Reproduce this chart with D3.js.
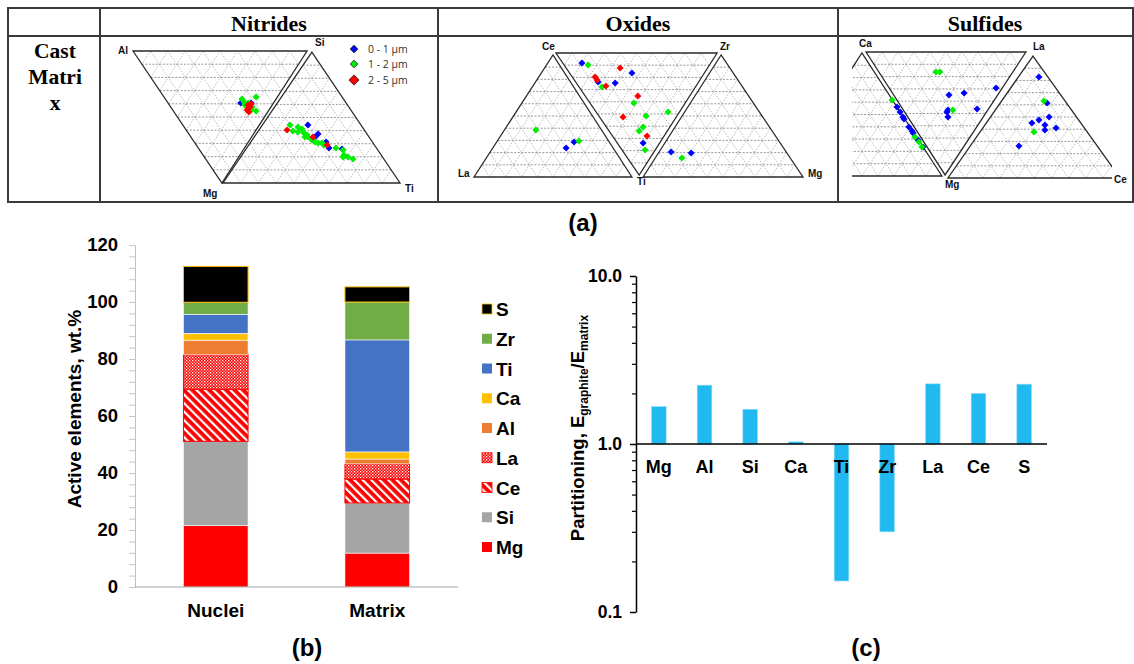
<!DOCTYPE html>
<html>
<head>
<meta charset="utf-8">
<script src="https://cdn.jsdelivr.net/npm/d3@7"></script>
<style>
  body { margin: 0; background: #fff; }
  svg { display: block; }
  text { font-family: "Liberation Sans", Arial, sans-serif; }
</style>
</head>
<body>
<svg id="fig" width="1134" height="664"></svg>
<script>

// ---------- (a) ternary points (0-100 across each plot box, y up)
var sizeLabels = ["0 - 1 µm", "1 - 2 µm", "2 - 5 µm"];
var sizeColors = ["#0000ff", "#00ee00", "#ff0000"];

var nitrides01 = [[40.4,60.6],[44.2,60.6],[65.5,43.9],[69.3,37.1],[68.2,34.8],[72.3,31.1],[73.4,26.5],[78.3,25.8]];
var nitrides12 = [[40.8,63.6],[41.6,61.4],[42.7,57.6],[43.1,60.6],[44.6,57.6],[46.1,65.2],[46.1,54.5],[44.2,55.3],[41.9,59.1],
                  [58.8,43.9],[59.9,39.4],[61.8,42.4],[63.3,40.9],[64.0,37.9],[65.2,36.4],[65.5,34.8],[67.0,32.6],[68.2,31.1],
                  [69.3,30.3],[70.8,30.3],[71.5,28.8],[76.0,26.5],[78.7,25.0],[79.0,21.2],[80.5,19.7],[82.4,18.2],[78.7,19.7],
                  [61.8,38.6],[64.4,34.8]];
var nitrides25 = [[43.1,59.1],[43.4,56.8],[42.7,55.3],[43.4,53.8],[43.8,57.6],[44.2,59.8],[57.7,40.2],[67.4,34.8],[72.7,28.8]];

var oxides01 = [[32.8,91.9],[48.0,83.9],[37.7,76.6],[42.9,75.8],[30.4,28.2],[28.0,23.4],[51.4,27.4],[59.9,20.2],[66.0,19.4]];
var oxides12 = [[34.7,90.3],[38.9,72.6],[48.6,59.7],[59.0,52.4],[52.3,49.2],[51.4,40.3],[50.2,37.1],[18.8,37.9],[31.9,29.0],
                [52.0,21.8],[63.2,15.3]];
var oxides25 = [[44.4,87.9],[36.8,80.6],[37.4,78.2],[40.1,73.4],[49.8,65.3],[45.3,48.4],[52.6,33.1]];

var sulfides01 = [[17.3,56.3],[18.5,52.4],[19.6,48.4],[20.0,46.8],[21.9,40.5],[23.1,37.3],[23.5,35.7],[25.4,30.2],[27.3,24.6],
                  [37.3,65.9],[43.1,67.5],[55.4,71.4],[36.5,52.4],[36.9,54.0],[36.9,48.4],[48.1,54.8],[71.9,80.2],[75.0,59.5],
                  [75.8,48.4],[71.9,46.0],[69.2,43.7],[74.2,42.1],[74.2,38.1],[78.5,39.7],[64.2,25.4]];
var sulfides12 = [[32.3,84.1],[33.8,84.1],[15.4,61.9],[38.8,54.0],[24.2,32.5],[25.8,28.6],[26.9,24.6],[73.8,61.1],[70.0,36.5]];
var sulfides25 = [];

// ---------- (b) stacked composition, wt.%
var samples = ["Nuclei", "Matrix"];
var elements = ["Mg", "Si", "Ce", "La", "Al", "Ca", "Ti", "Zr", "S"];   // bottom to top
var nucleiWt = [21.5, 29.6, 18.3, 12.2, 5.0, 2.4, 6.7, 4.2, 12.6];
var matrixWt = [11.9, 17.6, 8.4, 5.3, 1.7, 2.5, 39.3, 13.3, 5.3];
var wtTicks = [0, 20, 40, 60, 80, 100, 120];

// ---------- (c) partitioning
var partElements = ["Mg", "Al", "Si", "Ca", "Ti", "Zr", "La", "Ce", "S"];
var partition = [1.67, 2.24, 1.61, 1.03, 0.153, 0.30, 2.28, 2.0, 2.27];
var logTicks = [0.1, 1, 10];


var svg = d3.select("#fig");
svg.append("rect").attr("width", 1134).attr("height", 664).attr("fill", "#fff");
var defs = svg.append("defs");

// ---------- table frame
var frame = svg.append("g").attr("stroke", "#3a3a3a").attr("stroke-width", 2).attr("fill", "none");
frame.append("rect").attr("x", 8).attr("y", 8).attr("width", 1125).attr("height", 194);
frame.append("line").attr("x1", 8).attr("x2", 1133).attr("y1", 36).attr("y2", 36);
[100, 438, 838].forEach(function(cx) {
  frame.append("line").attr("x1", cx).attr("x2", cx).attr("y1", 8).attr("y2", 202);
});

var serif = "'Liberation Serif', 'Times New Roman', serif";
[["Nitrides", 269], ["Oxides", 638], ["Sulfides", 985]].forEach(function(h) {
  svg.append("text").text(h[0]).attr("x", h[1]).attr("y", 31)
    .attr("text-anchor", "middle").style("font-family", serif)
    .attr("font-weight", "bold").attr("font-size", 22);
});
[["Cast", 58], ["Matri", 84], ["x", 110]].forEach(function(h) {
  svg.append("text").text(h[0]).attr("x", 55).attr("y", h[1])
    .attr("text-anchor", "middle").style("font-family", serif)
    .attr("font-weight", "bold").attr("font-size", 21.5);
});

// ---------- (a) ternary panels
var panels = [
  { box: [133, 400, 51, 183], clip: [102, 38, 334, 162],
    tris: [[[0,100],[65.2,100],[33.3,0]], [[67,99.2],[33.7,0],[100,0]]],
    series: [nitrides01, nitrides12, nitrides25],
    labels: [["Al",118,54],["Si",315,46],["Mg",203,197],["Ti",405,192]] },
  { box: [474, 803, 53, 177], clip: [440, 38, 396, 162],
    tris: [[[24.0,98.4],[0,0],[48.0,0]], [[24.9,100],[73.9,100],[50.2,1.6]], [[75.1,98.4],[51.4,0],[100,0]]],
    series: [oxides01, oxides12, oxides25],
    labels: [["Ce",542,50],["Zr",720,50],["La",458,177],["Ti",637,185],["Mg",808,177]] },
  { box: [852, 1112, 52, 178], clip: [852, 38, 260, 162],
    tris: [[[3.8,99.2],[-26.9,1.6],[34.6,1.6]], [[5.4,100],[66.9,100],[35.8,2.4]], [[69.6,96.8],[36.9,0],[103.1,0]]],
    series: [sulfides01, sulfides12, sulfides25],
    labels: [["Ca",859,47],["La",1033,50],["Mg",945,188],["Ce",1114,183]] }
];

var diamond = d3.symbol().type(d3.symbolSquare).size(25);

panels.forEach(function(p, pi) {
  var x = d3.scaleLinear().domain([0, 100]).range([p.box[0], p.box[1]]);
  var y = d3.scaleLinear().domain([0, 100]).range([p.box[3], p.box[2]]);

  defs.append("clipPath").attr("id", "clip" + pi)
    .append("rect").attr("x", p.clip[0]).attr("y", p.clip[1]).attr("width", p.clip[2]).attr("height", p.clip[3]);
  var g = svg.append("g").attr("clip-path", "url(#clip" + pi + ")");

  p.tris.forEach(function(t) {
    var pts = t.map(function(d) { return [x(d[0]), y(d[1])]; });
    for (var v = 0; v < 3; v++) {
      var A = pts[v], B = pts[(v + 1) % 3], C = pts[(v + 2) % 3];
      var horiz = Math.abs(B[1] - C[1]) < 4;
      for (var k = 1; k < 10; k++) {
        var f = k / 10;
        g.append("line")
          .attr("x1", A[0] + f * (B[0] - A[0])).attr("y1", A[1] + f * (B[1] - A[1]))
          .attr("x2", A[0] + f * (C[0] - A[0])).attr("y2", A[1] + f * (C[1] - A[1]))
          .attr("stroke", horiz ? "#777" : "#a4a4a4")
          .attr("stroke-width", 0.75)
          .attr("stroke-dasharray", horiz ? "2,1.5" : "1.5,1.5");
      }
    }
    g.append("path").attr("d", d3.line()(pts) + "Z")
      .attr("fill", "none").attr("stroke", "#2a2a2a").attr("stroke-width", 1.3);
  });

  p.series.forEach(function(s, si) {
    g.selectAll(null).data(s).join("path")
      .attr("d", diamond)
      .attr("transform", function(d) { return "translate(" + x(d[0]) + "," + y(d[1]) + ") rotate(45)"; })
      .attr("fill", sizeColors[si]);
  });

  p.labels.forEach(function(l) {
    svg.append("text").text(l[0]).attr("x", l[1]).attr("y", l[2])
      .attr("font-size", 10).attr("font-weight", "bold").attr("fill", "#111");
  });
});

// nitrides legend
sizeLabels.forEach(function(lab, i) {
  var ly = [49, 64, 80][i];
  svg.append("path")
    .attr("d", d3.symbol().type(d3.symbolSquare).size(i === 2 ? 52 : 30)())
    .attr("transform", "translate(354," + ly + ") rotate(45)")
    .attr("fill", sizeColors[i]).attr("stroke", "#111").attr("stroke-width", 0.7);
  svg.append("text").text(lab).attr("x", 368).attr("y", ly + 3.5)
    .style("font-family", "'Open Sans', sans-serif").attr("font-size", 10.5).attr("fill", "#333");
});

svg.append("text").text("(a)").attr("x", 583).attr("y", 231).attr("text-anchor", "middle")
  .attr("font-weight", "bold").attr("font-size", 24);

// ---------- patterns for La / Ce
var ce = defs.append("pattern").attr("id", "hatchCe").attr("patternUnits", "userSpaceOnUse")
  .attr("width", 6).attr("height", 6).attr("patternTransform", "rotate(-45)");
ce.append("rect").attr("width", 6).attr("height", 6).attr("fill", "#ff0000");
ce.append("rect").attr("width", 2.2).attr("height", 6).attr("fill", "#fff");

var la = defs.append("pattern").attr("id", "checkLa").attr("patternUnits", "userSpaceOnUse")
  .attr("width", 3).attr("height", 3);
la.append("rect").attr("width", 3).attr("height", 3).attr("fill", "#ff0000");
la.append("rect").attr("width", 1.3).attr("height", 1.3).attr("fill", "#fff");
la.append("rect").attr("x", 1.5).attr("y", 1.5).attr("width", 1.3).attr("height", 1.3).attr("fill", "#ffd0d0");

var fills = { Mg: "#ff0000", Si: "#a5a5a5", Ce: "url(#hatchCe)", La: "url(#checkLa)", Al: "#ed7d31",
              Ca: "#ffc000", Ti: "#4472c4", Zr: "#70ad47", S: "#000000" };
var strokes = { Ce: "#ff0000", La: "#ff0000", S: "#ffc000" };

// ---------- (b) stacked bars
var xb = d3.scaleBand().domain(samples).range([135, 458]).paddingInner(0.6).paddingOuter(0.3);
var yb = d3.scaleLinear().domain([0, 120]).range([587, 245]);

var rows = samples.map(function(s, i) {
  var vals = [nucleiWt, matrixWt][i];
  var o = { sample: s };
  elements.forEach(function(e, j) { o[e] = vals[j]; });
  return o;
});
var stacked = d3.stack().keys(elements)(rows);

svg.append("g").selectAll("g").data(stacked).join("g")
  .attr("fill", function(d) { return fills[d.key]; })
  .attr("stroke", function(d) { return strokes[d.key] || "#ffffff"; })
  .attr("stroke-width", function(d) { return strokes[d.key] ? 1 : 0.6; })
  .selectAll("rect").data(function(d) { return d; }).join("rect")
    .attr("x", function(d) { return xb(d.data.sample); })
    .attr("width", xb.bandwidth())
    .attr("y", function(d) { return yb(d[1]); })
    .attr("height", function(d) { return yb(d[0]) - yb(d[1]); });

var axB = svg.append("g").attr("transform", "translate(135,0)")
  .call(d3.axisLeft(yb).tickValues(d3.range(0, 121, 4)).tickSize(6).tickPadding(11)
    .tickFormat(function(d) { return wtTicks.indexOf(d) >= 0 ? d : ""; }));
axB.select(".domain").attr("stroke", "#c0c0c0");
axB.selectAll(".tick line").attr("stroke", "#c8c8c8");
axB.selectAll("text").attr("font-size", 18.5).attr("font-weight", "bold").attr("fill", "#000")
  .style("font-family", "'Liberation Sans', Arial, sans-serif");

svg.append("line").attr("x1", 135).attr("x2", 458).attr("y1", yb(0)).attr("y2", yb(0))
  .attr("stroke", "#a6a6a6").attr("stroke-width", 1.2);

samples.forEach(function(s) {
  svg.append("text").text(s).attr("x", xb(s) + xb.bandwidth() / 2).attr("y", 617)
    .attr("text-anchor", "middle").attr("font-weight", "bold").attr("font-size", 19);
});

svg.append("text").text("Active elements, wt.%")
  .attr("transform", "translate(81,409) rotate(-90)").attr("text-anchor", "middle")
  .attr("font-weight", "bold").attr("font-size", 19);

elements.slice().reverse().forEach(function(e, i) {
  var cy = 309 + i * 29.75;
  svg.append("rect").attr("x", 482).attr("y", cy - 5).attr("width", 10).attr("height", 10)
    .attr("fill", fills[e]).attr("stroke", strokes[e] || "none").attr("stroke-width", 0.8);
  svg.append("text").text(e).attr("x", 496).attr("y", cy + 7)
    .attr("font-weight", "bold").attr("font-size", 19);
});

svg.append("text").text("(b)").attr("x", 307).attr("y", 656).attr("text-anchor", "middle")
  .attr("font-weight", "bold").attr("font-size", 24);

// ---------- (c) partitioning, log scale
var xc = d3.scaleBand().domain(partElements).range([636, 1047]).paddingInner(0.68).paddingOuter(0.34);
var yc = d3.scaleLog().domain([0.1, 10]).range([612, 276]);

svg.append("g").selectAll("rect").data(partElements).join("rect")
  .attr("x", function(d) { return xc(d); })
  .attr("width", xc.bandwidth())
  .attr("y", function(d, i) { return Math.min(yc(partition[i]), yc(1)); })
  .attr("height", function(d, i) { return Math.abs(yc(partition[i]) - yc(1)); })
  .attr("fill", "#20baf0").attr("stroke", "#8fdcf8").attr("stroke-width", 0.6);

var minorTicks = [];
[0.1, 1].forEach(function(dec) { for (var m = 2; m < 10; m++) minorTicks.push(dec * m); });

var axCm = svg.append("g").attr("transform", "translate(636,0)")
  .call(d3.axisLeft(yc).tickValues(minorTicks).tickSize(4).tickSizeOuter(0).tickFormat(""));
axCm.select(".domain").remove();
axCm.selectAll(".tick line").attr("stroke", "#000").attr("stroke-width", 1.2);

var axC = svg.append("g").attr("transform", "translate(636,0)")
  .call(d3.axisLeft(yc).tickValues(logTicks).tickSize(6).tickSizeOuter(0).tickPadding(8).tickFormat(d3.format(".1f")));
axC.select(".domain").attr("stroke", "#000").attr("stroke-width", 1.5);
axC.selectAll(".tick line").attr("stroke", "#000").attr("stroke-width", 1.5);
axC.selectAll("text").attr("font-size", 17.5).attr("font-weight", "bold").attr("fill", "#000")
  .style("font-family", "'Liberation Sans', Arial, sans-serif");

svg.append("line").attr("x1", 636).attr("x2", 1047).attr("y1", yc(1)).attr("y2", yc(1))
  .attr("stroke", "#000").attr("stroke-width", 1.5);

partElements.forEach(function(e) {
  svg.append("text").text(e).attr("x", xc(e) + xc.bandwidth() / 2).attr("y", yc(1) + 29)
    .attr("text-anchor", "middle").attr("font-weight", "bold").attr("font-size", 18);
});

var yl = svg.append("text").attr("transform", "translate(584,428) rotate(-90)")
  .attr("text-anchor", "middle").attr("font-weight", "bold").attr("font-size", 18.5);
yl.append("tspan").text("Partitioning, E");
yl.append("tspan").text("graphite").attr("font-size", 12).attr("dy", 4);
yl.append("tspan").text("/E").attr("dy", -4);
yl.append("tspan").text("matrix").attr("font-size", 12).attr("dy", 4);

svg.append("text").text("(c)").attr("x", 866).attr("y", 656).attr("text-anchor", "middle")
  .attr("font-weight", "bold").attr("font-size", 24);

</script>
</body>
</html>
